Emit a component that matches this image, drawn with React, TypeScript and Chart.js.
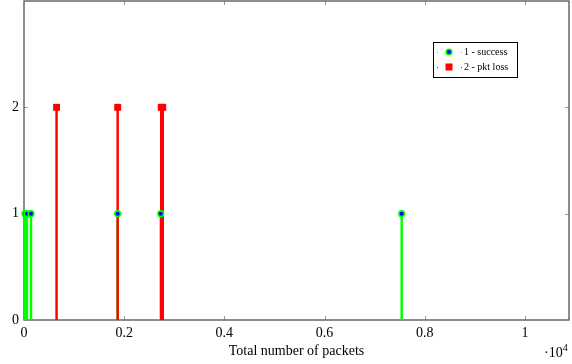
import React, { useEffect, useRef } from "react";
import { Chart, registerables } from "chart.js";

Chart.register(...registerables);

// Packet counts (x) at which each outcome was observed, and the outcome code (y)
const successPackets = [20, 60, 140, 1870, 2730, 7540];
const successCode = [1, 1, 1, 1, 1, 1];
const lossPackets = [650, 1870, 2740, 2770];
const lossCode = [2, 2, 2, 2];

const xTickValues = [0, 2000, 4000, 6000, 8000, 10000];
const yTickValues = [0, 1, 2];
const xMax = 10880;
const yMax = 3;

const legendLabels = ["1 - success", "2 - pkt loss"];

const SERIF = "'Liberation Serif', 'DejaVu Serif', serif";
const GREEN = "#00ff00";
const BLUE = "#0000ff";
const RED = "#ff0000";
const AXIS = "#505050";
const TICK = "#9a9a9a";

const toPoints = (xs: number[], ys: number[]) => xs.map((x, i) => ({ x, y: ys[i] }));

// Axis box with inward tick marks on all four sides
const framePlugin = {
  id: "frame",
  beforeDatasetsDraw(chart: any) {
    const { ctx, chartArea: a, scales } = chart;
    ctx.save();
    ctx.strokeStyle = TICK;
    ctx.lineWidth = 1;
    const len = 4;
    ctx.beginPath();
    for (const v of xTickValues) {
      if (v === 0) continue;
      const px = Math.round(scales.x.getPixelForValue(v)) + 0.5;
      ctx.moveTo(px, a.bottom);
      ctx.lineTo(px, a.bottom - len);
      ctx.moveTo(px, a.top);
      ctx.lineTo(px, a.top + len);
    }
    for (const v of yTickValues) {
      if (v === 0) continue;
      const py = Math.round(scales.y.getPixelForValue(v)) + 0.5;
      ctx.moveTo(a.left, py);
      ctx.lineTo(a.left + len, py);
      ctx.moveTo(a.right, py);
      ctx.lineTo(a.right - len, py);
    }
    ctx.stroke();
    ctx.strokeStyle = AXIS;
    ctx.lineWidth = 1.3;
    ctx.strokeRect(a.left, a.top, a.right - a.left, a.bottom - a.top);
    ctx.restore();
  },
  afterDraw(chart: any) {
    const { ctx } = chart;
    ctx.save();
    // scale factor note under the x axis
    ctx.fillStyle = "#000";
    ctx.textBaseline = "alphabetic";
    ctx.textAlign = "left";
    ctx.font = `14px ${SERIF}`;
    const base = "\u00b710";
    ctx.fillText(base, 544, 357);
    const w = ctx.measureText(base).width;
    ctx.font = `10px ${SERIF}`;
    ctx.fillText("4", 544 + w, 351);

    // legend box
    const bx = 433.5, by = 42.5, bw = 84, bh = 35;
    ctx.fillStyle = "#fff";
    ctx.fillRect(bx, by, bw, bh);
    ctx.strokeStyle = "#000";
    ctx.lineWidth = 1;
    ctx.strokeRect(bx, by, bw, bh);
    const rows = [52, 67];
    rows.forEach((ry, i) => {
      const col = i === 0 ? GREEN : RED;
      ctx.fillStyle = col;
      ctx.fillRect(437, ry, 1, 1);
      ctx.fillRect(461, ry, 1, 1);
      if (i === 0) {
        ctx.beginPath();
        ctx.arc(449, ry, 2.8, 0, Math.PI * 2);
        ctx.fillStyle = BLUE;
        ctx.fill();
        ctx.lineWidth = 1.6;
        ctx.strokeStyle = GREEN;
        ctx.stroke();
      } else {
        ctx.fillStyle = RED;
        ctx.fillRect(445.5, ry - 3.5, 7, 7);
      }
      ctx.fillStyle = "#000";
      ctx.font = `10px ${SERIF}`;
      ctx.textBaseline = "middle";
      ctx.fillText(legendLabels[i], 464, ry + 0.5);
    });
    ctx.restore();
  },
};

export default function App() {
  const canvasRef = useRef<HTMLCanvasElement | null>(null);

  useEffect(() => {
    document.body.style.margin = "0";
    const canvas = canvasRef.current;
    if (!canvas) return;
    const chart = new Chart(canvas, {
      type: "bar",
      data: {
        datasets: [
          {
            type: "bar",
            label: "success stems",
            data: toPoints(successPackets, successCode),
            backgroundColor: GREEN,
            barThickness: 1.8,
            grouped: false,
            order: 4,
          } as any,
          {
            type: "bar",
            label: "loss stems",
            data: toPoints(lossPackets, lossCode),
            backgroundColor: RED,
            barThickness: 1.8,
            grouped: false,
            order: 3,
          } as any,
          {
            type: "line",
            label: legendLabels[0],
            data: toPoints(successPackets, successCode),
            showLine: false,
            pointStyle: "circle",
            pointRadius: 2.8,
            pointBorderWidth: 1.6,
            pointBackgroundColor: BLUE,
            pointBorderColor: GREEN,
            clip: false,
            order: 2,
          } as any,
          {
            type: "line",
            label: legendLabels[1],
            data: toPoints(lossPackets, lossCode),
            showLine: false,
            pointStyle: "rect",
            pointRadius: 4.9,
            pointBorderWidth: 0,
            pointBackgroundColor: RED,
            pointBorderColor: RED,
            clip: false,
            order: 1,
          } as any,
        ],
      },
      options: {
        responsive: false,
        animation: false,
        events: [],
        layout: { autoPadding: false, padding: { left: 0, right: 3, top: 1, bottom: 0 } },
        plugins: {
          legend: { display: false },
          tooltip: { enabled: false },
        },
        scales: {
          x: {
            type: "linear",
            min: 0,
            max: xMax,
            offset: false,
            grid: { display: false, drawTicks: false, offset: false },
            border: { display: false },
            afterBuildTicks: (s: any) => {
              s.ticks = xTickValues.map((value) => ({ value }));
            },
            afterFit: (s: any) => {
              s.height = 44;
              s.paddingLeft = 0;
              s.paddingRight = 0;
            },
            ticks: {
              padding: 5,
              maxRotation: 0,
              autoSkip: false,
              color: "#000",
              font: { family: SERIF, size: 14 },
              callback: (v: any) => String(Number(v) / 10000),
            },
            title: {
              display: true,
              text: "Total number of packets",
              color: "#000",
              font: { family: SERIF, size: 14 },
              padding: { top: 0, bottom: 4 },
            },
          },
          y: {
            type: "linear",
            min: 0,
            max: yMax,
            grid: { display: false, drawTicks: false },
            border: { display: false },
            afterBuildTicks: (s: any) => {
              s.ticks = yTickValues.map((value) => ({ value }));
            },
            afterFit: (s: any) => {
              s.width = 24;
              s.paddingTop = 0;
              s.paddingBottom = 0;
            },
            ticks: {
              padding: 5,
              color: "#000",
              font: { family: SERIF, size: 14 },
            },
          },
        },
      },
      plugins: [framePlugin],
    });
    return () => chart.destroy();
  }, []);

  return (
    <div style={{ position: "fixed", left: 0, top: 0, width: 572, height: 364, background: "#fff" }}>
      <canvas ref={canvasRef} width={572} height={364} />
    </div>
  );
}
